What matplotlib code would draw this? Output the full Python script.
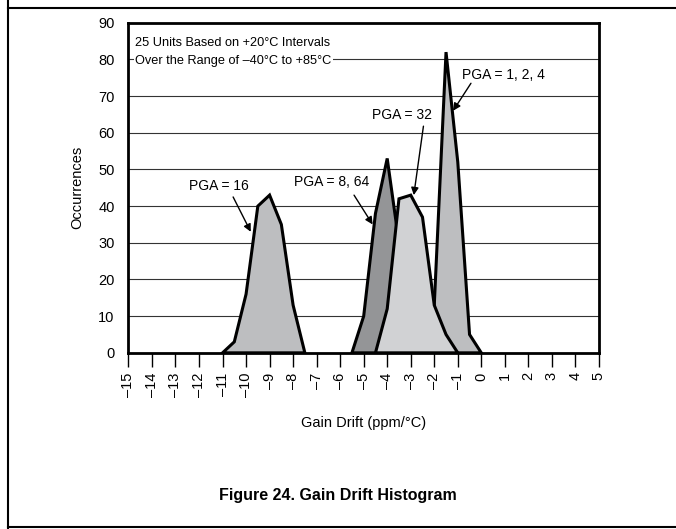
import matplotlib
matplotlib.use('Agg')
import matplotlib.pyplot as plt
from matplotlib.lines import Line2D

plt.rcParams['font.family'] = ['Liberation Sans', 'DejaVu Sans']
plt.rcParams['font.size'] = 10

# datos de cada histograma (centro de clase, ocurrencias)
pga16_x = [-11, -10.5, -10, -9.5, -9, -8.5, -8, -7.5]
pga16_y = [0, 3, 16, 40, 43, 35, 13, 0]

pga124_x = [-2.5, -2, -1.5, -1, -0.5, 0]
pga124_y = [0, 13, 82, 52, 5, 0]

pga864_x = [-5.5, -5, -4.5, -4, -3.5, -3, -2.5]
pga864_y = [0, 10, 38, 53, 30, 8, 0]

pga32_x = [-4.5, -4, -3.5, -3, -2.5, -2, -1.5, -1]
pga32_y = [0, 12, 42, 43, 37, 13, 5, 0]

xticks = list(range(-15, 6))
yticks = list(range(0, 100, 10))

fig = plt.figure(figsize=(6.76, 5.29), dpi=100)
ax = fig.add_axes([0.190, 0.333, 0.696, 0.624])

# lineas de la cuadricula
for v in yticks[1:-1]:
    ax.axhline(v, color='#333333', lw=0.8, zorder=0)

edge = dict(edgecolor='black', linewidth=2.2, joinstyle='miter')
ax.fill(pga16_x, pga16_y, facecolor='#bdbec0', zorder=2, **edge)
ax.fill(pga124_x, pga124_y, facecolor='#bdbec0', zorder=2, **edge)
ax.fill(pga864_x, pga864_y, facecolor='#949597', zorder=3, **edge)
ax.fill(pga32_x, pga32_y, facecolor='#d1d2d4', zorder=4, **edge)

ax.set_xlim(-15, 5)
ax.set_ylim(0, 90)
ax.set_xticks(xticks)
ax.set_xticklabels([str(t).replace('-', '\u2013') for t in xticks], rotation=90)
ax.set_yticks(yticks)
ax.tick_params(axis='both', labelsize=10.5)
ax.tick_params(axis='x', direction='out', length=10, width=1, pad=4)
ax.tick_params(axis='y', length=0, pad=10)
for s in ax.spines.values():
    s.set_linewidth(2)
ax.set_xlabel('Gain Drift (ppm/°C)', fontsize=10.5, labelpad=14)
ax.set_ylabel('Occurrences', fontsize=10.5, labelpad=10)

ax.text(-14.7, 86.0, '25 Units Based on +20°C Intervals\nOver the Range of \u201340°C to +85°C',
        va='top', ha='left', fontsize=9.2, linespacing=1.6, zorder=5,
        bbox=dict(facecolor='white', edgecolor='none', pad=1))

arrow = dict(arrowstyle='-|>', color='black', lw=1, mutation_scale=11, shrinkA=0, shrinkB=0)
ax.text(-9.9, 45.5, 'PGA = 16', ha='right', va='center', zorder=6)
ax.annotate('', xy=(-9.8, 33), xytext=(-10.55, 42.5), arrowprops=arrow, zorder=6)
ax.text(-4.77, 46.6, 'PGA = 8, 64', ha='right', va='center', zorder=6)
ax.annotate('', xy=(-4.62, 35), xytext=(-5.41, 43), arrowprops=arrow, zorder=6)
ax.text(-2.1, 64.8, 'PGA = 32', ha='right', va='center', zorder=6)
ax.annotate('', xy=(-2.87, 43), xytext=(-2.46, 61.8), arrowprops=arrow, zorder=6)
ax.text(-0.83, 75.8, 'PGA = 1, 2, 4', ha='left', va='center', zorder=6)
ax.annotate('', xy=(-1.2, 66), xytext=(-0.44, 73.5), arrowprops=arrow, zorder=6)

fig.text(0.5, 0.064, 'Figure 24. Gain Drift Histogram', ha='center', va='center',
         fontsize=11.5, fontweight='bold')

# marco de la figura
fig.add_artist(Line2D([8/676, 8/676], [0, 1], color='black', lw=1.5))
fig.add_artist(Line2D([8/676, 1], [1 - 8/529, 1 - 8/529], color='black', lw=1.5))
fig.add_artist(Line2D([8/676, 1], [2/529, 2/529], color='black', lw=1.5))

fig.savefig('out.png', dpi=100)
